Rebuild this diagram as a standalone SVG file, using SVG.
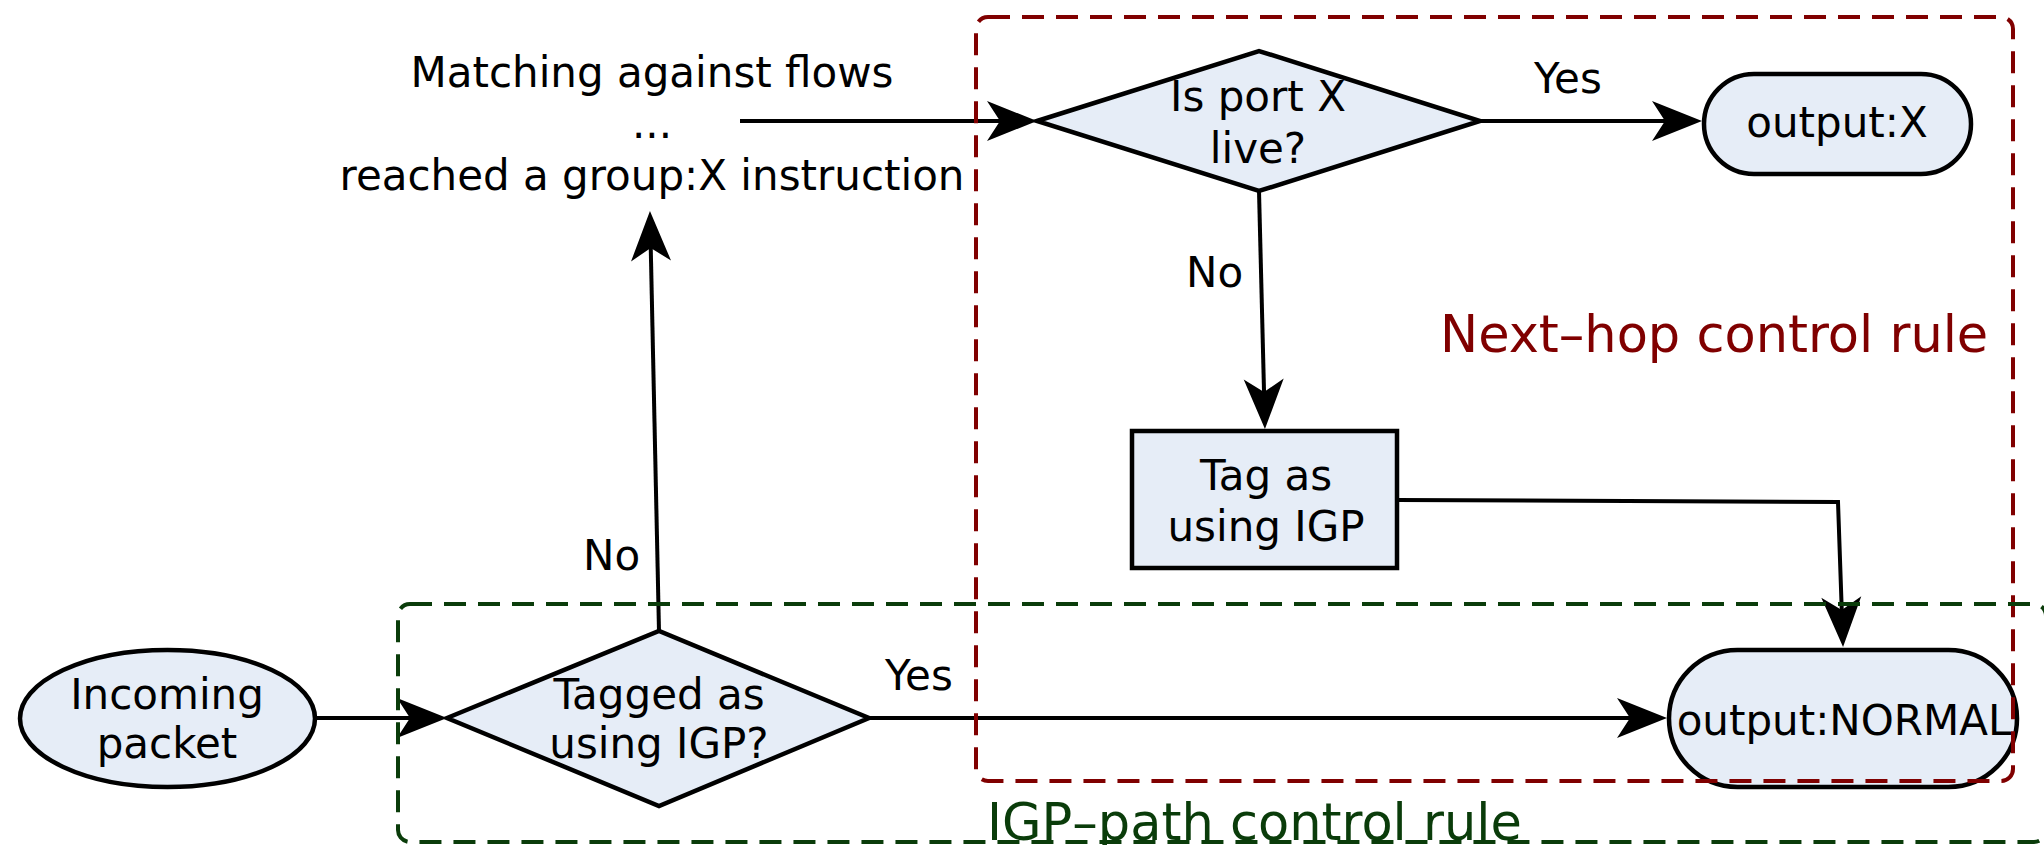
<svg xmlns="http://www.w3.org/2000/svg" width="2044" height="845" viewBox="0 0 2044 845">
  <style>
    text { font-family: "DejaVu Sans", "Liberation Sans", sans-serif; font-size: 42px; fill: #000; }
    .c { text-anchor: middle; }
    .node { fill: #e6edf7; stroke: #000; stroke-width: 4.5; }
    .edge { fill: none; stroke: #000; stroke-width: 4; marker-end: url(#arrow); }
    .rule { fill: none; stroke-width: 4; stroke-dasharray: 22 12; }
    .rule-red { stroke: #800000; }
    .rule-green { stroke: #0a3c0a; }
    .lbl-red { font-size: 51px; fill: #800000; }
    .lbl-green { font-size: 51px; fill: #0a3c0a; }
  </style>
  <defs>
    <!-- notched arrowhead; tip lies 30px beyond the path end -->
    <marker id="arrow" markerUnits="userSpaceOnUse" viewBox="-52 -22 54 44" markerWidth="54" markerHeight="44" refX="-30" refY="0" orient="auto">
      <path d="M0,0 L-50,-20 L-37,0 L-50,20 Z" fill="#000"/>
    </marker>
  </defs>

  <rect width="2044" height="845" fill="#fff"/>

  <!-- connectors -->
  <g id="connectors">
    <path class="edge" d="M317,718 L417,718"/>
    <path class="edge" d="M659,631 L650.6,241"/>
    <path class="edge" d="M740,121 L1007,121"/>
    <path class="edge" d="M1480,121 L1672,121"/>
    <path class="edge" d="M1259,191 L1264.2,399"/>
    <path class="edge" d="M1397,500 L1838,502 L1842,617"/>
    <path class="edge" d="M869,718 L1637,718"/>
    <text x="583" y="570">No</text>
    <text x="1534" y="93">Yes</text>
    <text x="1186" y="287">No</text>
    <text x="885" y="690">Yes</text>
  </g>

  <g id="incoming">
    <ellipse class="node" cx="167.5" cy="718.5" rx="147.5" ry="68.5"/>
    <text class="c" x="167" y="709">Incoming</text>
    <text class="c" x="167" y="758">packet</text>
  </g>

  <g id="tagged">
    <polygon class="node" points="447,718 659,631 869,718 659,806"/>
    <text class="c" x="659" y="709">Tagged as</text>
    <text class="c" x="659" y="758">using IGP?</text>
  </g>

  <g id="matching">
    <text class="c" x="652" y="87">Matching against flows</text>
    <text class="c" x="652" y="138">...</text>
    <text class="c" x="652" y="190">reached a group:X instruction</text>
  </g>

  <g id="port-live">
    <polygon class="node" points="1037,121 1259,51 1480,121 1259,191"/>
    <text class="c" x="1258" y="111">Is port X</text>
    <text class="c" x="1258" y="163">live?</text>
  </g>

  <g id="output-x">
    <rect class="node" x="1704" y="74" width="267" height="100" rx="50"/>
    <text class="c" x="1837" y="137">output:X</text>
  </g>

  <g id="tag-igp">
    <rect class="node" x="1132" y="431" width="265" height="137"/>
    <text class="c" x="1266" y="490">Tag as</text>
    <text class="c" x="1266" y="541">using IGP</text>
  </g>

  <g id="output-normal">
    <rect class="node" x="1669" y="650" width="348" height="137" rx="68.5"/>
    <text class="c" x="1844" y="735">output:NORMAL</text>
  </g>

  <!-- rule regions -->
  <g id="next-hop-rule">
    <rect class="rule rule-red" x="976" y="17" width="1037" height="764" rx="12"/>
    <text class="lbl-red" x="1440" y="352">Next–hop control rule</text>
  </g>
  <g id="igp-path-rule">
    <rect class="rule rule-green" x="398" y="604" width="1648" height="238" rx="12"/>
    <text class="lbl-green" x="987" y="840">IGP–path control rule</text>
  </g>
</svg>
